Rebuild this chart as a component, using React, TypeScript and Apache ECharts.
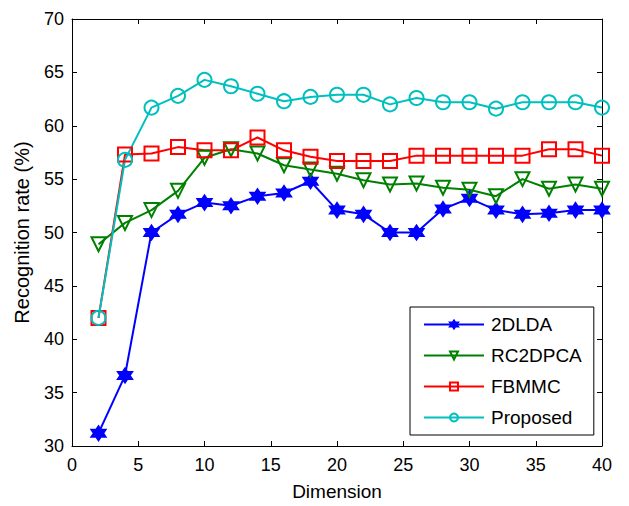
import React, { useEffect, useRef } from "react";
import * as echarts from "echarts";

const dims = [2, 4, 6, 8, 10, 12, 14, 16, 18, 20, 22, 24, 26, 28, 30, 32, 34, 36, 38, 40];
const lda2d = [31.2, 36.6, 50.0, 51.7, 52.8, 52.5, 53.4, 53.7, 54.8, 52.1, 51.7, 50.0, 50.0, 52.2, 53.2, 52.1, 51.7, 51.8, 52.1, 52.1];
const rc2dpca = [48.9, 50.9, 52.1, 53.9, 57.0, 57.8, 57.4, 56.3, 55.9, 55.5, 54.9, 54.5, 54.6, 54.2, 54.0, 53.4, 55.0, 54.1, 54.5, 54.1];
const fbmmc = [42.0, 57.3, 57.4, 58.0, 57.7, 57.7, 58.9, 57.7, 57.1, 56.7, 56.7, 56.7, 57.2, 57.2, 57.2, 57.2, 57.2, 57.8, 57.8, 57.2];
const proposed = [42.0, 56.8, 61.7, 62.8, 64.3, 63.7, 63.0, 62.3, 62.7, 62.9, 62.9, 62.0, 62.6, 62.2, 62.2, 61.6, 62.2, 62.2, 62.2, 61.7];
const seriesNames = ["2DLDA", "RC2DPCA", "FBMMC", "Proposed"];

const hexagram =
  "path://M10,0L12.89,5L18.66,5L15.77,10L18.66,15L12.89,15L10,20L7.11,15L1.34,15L4.23,10L1.34,5L7.11,5Z";

export default function App() {
  const ref = useRef<HTMLDivElement>(null);
  useEffect(() => {
    if (!ref.current) return;
    const chart = echarts.init(ref.current, null, { renderer: "svg" });
    const font = "'Liberation Sans', Arial, sans-serif";
    const mk = (name: string, vals: number[], color: string, symbol: string, size: number, fill: string) => ({
      name,
      type: "line",
      data: dims.map((d, i) => [d, vals[i]]),
      symbol,
      symbolSize: size,
      showAllSymbol: true,
      lineStyle: { color, width: 2 },
      itemStyle: { color: fill, borderColor: color, borderWidth: 2 },
      xAxisIndex: 0,
      yAxisIndex: 0,
    });
    const tickCommon = { show: true, inside: true, length: 5, lineStyle: { color: "#000", width: 1 } };
    chart.setOption({
      animation: false,
      backgroundColor: "#fff",
      grid: { left: 72, right: 27, top: 19, bottom: 59, containLabel: false },
      legend: {
        orient: "vertical",
        left: 410,
        top: 307,
        width: 155,
        data: seriesNames,
        backgroundColor: "#fff",
        borderColor: "#000",
        borderWidth: 1,
        padding: [8, 12, 8, 13],
        itemWidth: 60,
        itemHeight: 10,
        itemGap: 12,
        textStyle: { fontFamily: font, fontSize: 19, color: "#000", padding: [0, 0, 0, 2] },
      },
      xAxis: [
        {
          type: "value",
          min: 0,
          max: 40,
          interval: 5,
          name: "Dimension",
          nameLocation: "middle",
          nameGap: 36,
          nameTextStyle: { fontFamily: font, fontSize: 19, color: "#000" },
          axisLine: { show: true, onZero: false, lineStyle: { color: "#000", width: 1 } },
          axisTick: tickCommon,
          axisLabel: { fontFamily: font, fontSize: 18, color: "#000", margin: 10 },
          splitLine: { show: false },
        },
        {
          type: "value",
          position: "top",
          min: 0,
          max: 40,
          interval: 5,
          axisLine: { show: true, onZero: false, lineStyle: { color: "#000", width: 1 } },
          axisTick: tickCommon,
          axisLabel: { show: false },
          splitLine: { show: false },
        },
      ],
      yAxis: [
        {
          type: "value",
          min: 30,
          max: 70,
          interval: 5,
          name: "Recognition rate (%)",
          nameLocation: "middle",
          nameGap: 40,
          nameRotate: 90,
          nameTextStyle: { fontFamily: font, fontSize: 20, color: "#000" },
          axisLine: { show: true, onZero: false, lineStyle: { color: "#000", width: 1 } },
          axisTick: tickCommon,
          axisLabel: { fontFamily: font, fontSize: 18, color: "#000", margin: 8 },
          splitLine: { show: false },
        },
        {
          type: "value",
          position: "right",
          min: 30,
          max: 70,
          interval: 5,
          axisLine: { show: true, onZero: false, lineStyle: { color: "#000", width: 1 } },
          axisTick: tickCommon,
          axisLabel: { show: false },
          splitLine: { show: false },
        },
      ],
      series: [
        mk("2DLDA", lda2d, "#0000ff", hexagram, 14, "#0000ff"),
        mk("RC2DPCA", rc2dpca, "#008000", "path://M0,0L20,0L10,17.32Z", 14, "rgba(255,255,255,0)"),
        mk("FBMMC", fbmmc, "#ff0000", "rect", 14, "rgba(255,255,255,0)"),
        mk("Proposed", proposed, "#00bfbf", "circle", 14, "rgba(255,255,255,0)"),
      ],
    });
    return () => chart.dispose();
  }, []);
  return <div ref={ref} style={{ width: 629, height: 506, position: "absolute", left: 0, top: 0 }} />;
}
